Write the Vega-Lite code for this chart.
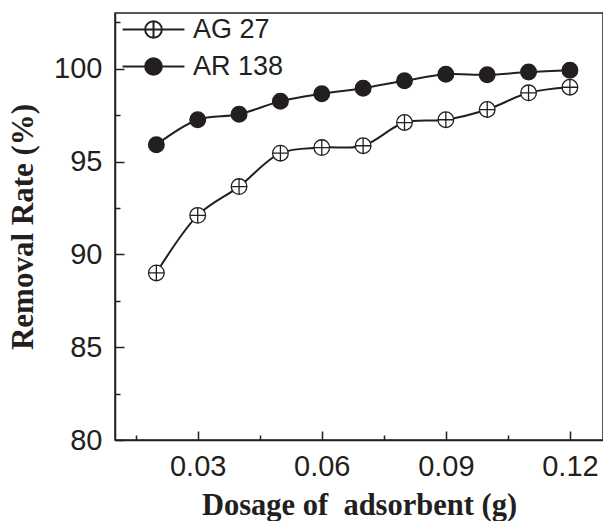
{
  "$schema": "https://vega.github.io/schema/vega-lite/v6.json",
  "width": 488,
  "height": 427,
  "autosize": {"type": "none"},
  "padding": {"left": 115, "top": 13, "right": 0, "bottom": 81},
  "background": "white",
  "config": {
    "view": {"stroke": "#231f20", "strokeWidth": 1.5},
    "font": "Liberation Sans",
    "axis": {
      "domainColor": "#231f20",
      "domainWidth": 1.5,
      "tickColor": "#231f20",
      "tickWidth": 1.5,
      "labelColor": "#231f20",
      "labelFont": "Liberation Sans",
      "labelFontSize": 29,
      "labelOverlap": false,
      "grid": false,
      "titleFont": "Liberation Serif",
      "titleFontWeight": "bold",
      "titleColor": "#231f20"
    }
  },
  "data": {
    "values": [
      {"dosage": 0.02, "rate": 89.0, "series": "AG 27"},
      {"dosage": 0.03, "rate": 92.1, "series": "AG 27"},
      {"dosage": 0.04, "rate": 93.65, "series": "AG 27"},
      {"dosage": 0.05, "rate": 95.45, "series": "AG 27"},
      {"dosage": 0.06, "rate": 95.75, "series": "AG 27"},
      {"dosage": 0.07, "rate": 95.85, "series": "AG 27"},
      {"dosage": 0.08, "rate": 97.1, "series": "AG 27"},
      {"dosage": 0.09, "rate": 97.25, "series": "AG 27"},
      {"dosage": 0.10, "rate": 97.8, "series": "AG 27"},
      {"dosage": 0.11, "rate": 98.7, "series": "AG 27"},
      {"dosage": 0.12, "rate": 99.0, "series": "AG 27"},
      {"dosage": 0.02, "rate": 95.9, "series": "AR 138"},
      {"dosage": 0.03, "rate": 97.25, "series": "AR 138"},
      {"dosage": 0.04, "rate": 97.55, "series": "AR 138"},
      {"dosage": 0.05, "rate": 98.25, "series": "AR 138"},
      {"dosage": 0.06, "rate": 98.65, "series": "AR 138"},
      {"dosage": 0.07, "rate": 98.95, "series": "AR 138"},
      {"dosage": 0.08, "rate": 99.35, "series": "AR 138"},
      {"dosage": 0.09, "rate": 99.7, "series": "AR 138"},
      {"dosage": 0.10, "rate": 99.67, "series": "AR 138"},
      {"dosage": 0.11, "rate": 99.82, "series": "AR 138"},
      {"dosage": 0.12, "rate": 99.92, "series": "AR 138"}
    ]
  },
  "encoding": {
    "x": {
      "field": "dosage",
      "type": "quantitative",
      "scale": {"domain": [0.01, 0.128], "nice": false, "zero": false},
      "axis": {
        "title": "Dosage of\u00a0 adsorbent (g)",
        "titleFontSize": 30.5,
        "titlePadding": 5,
        "values": [0.015, 0.03, 0.045, 0.06, 0.075, 0.09, 0.105, 0.12],
        "labelExpr": "abs(datum.value * 100 / 3 - round(datum.value * 100 / 3)) < 0.01 ? format(datum.value, '.2f') : ''",
        "tickSize": {"condition": {"test": "abs(datum.value * 100 / 3 - round(datum.value * 100 / 3)) < 0.01", "value": -9}, "value": -5},
        "labelPadding": 21
      }
    },
    "y": {
      "field": "rate",
      "type": "quantitative",
      "scale": {"domain": [80, 103], "nice": false, "zero": false},
      "axis": {
        "title": "Removal Rate (%)",
        "titleFontSize": 31,
        "titlePadding": 14,
        "values": [80, 82.5, 85, 87.5, 90, 92.5, 95, 97.5, 100, 102.5],
        "labelExpr": "datum.value % 5 === 0 ? format(datum.value, 'd') : ''",
        "tickSize": {"condition": {"test": "datum.value % 5 === 0", "value": -9}, "value": -5},
        "labelPadding": 22
      }
    }
  },
  "layer": [
    {
      "mark": {"type": "line", "interpolate": "catmull-rom", "strokeWidth": 2, "color": "#231f20"},
      "encoding": {"detail": {"field": "series"}}
    },
    {
      "mark": {
        "type": "point",
        "filled": true,
        "shape": "M-1,0A1,1,0,1,0,1,0A1,1,0,1,0,-1,0M-1,0L1,0M0,-1L0,1",
        "size": 245,
        "strokeWidth": 1.3,
        "opacity": 1
      },
      "encoding": {
        "stroke": {"value": "#231f20"},
        "fill": {
          "field": "series",
          "type": "nominal",
          "scale": {"domain": ["AG 27", "AR 138"], "range": ["white", "#231f20"]},
          "legend": {
            "orient": "none",
            "legendX": 25,
            "legendY": 3,
            "title": null,
            "labelFontSize": 27,
            "labelFont": "Liberation Sans",
            "labelColor": "#231f20",
            "symbolType": "M-3.7,0L-1,0M1,0L3.7,0M0,-0.9L0,0.9M-0.9,0L0.9,0M-1,0A1,1,0,1,0,1,0A1,1,0,1,0,-1,0",
            "symbolSize": 279,
            "labelOffset": 26,
            "rowPadding": 9,
            "padding": 0,
            "symbolStrokeWidth": 2,
            "symbolStrokeColor": "#231f20",
            "symbolOpacity": 1
          }
        }
      }
    }
  ]
}
